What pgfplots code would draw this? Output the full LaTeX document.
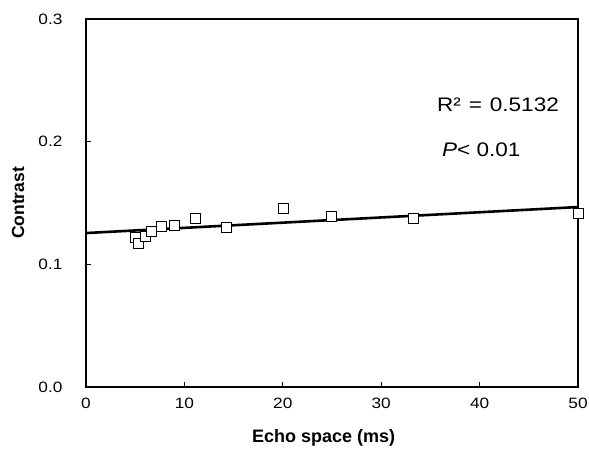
\documentclass[border=0pt]{standalone}
\usepackage{fontspec}
\setmainfont{Liberation Sans}
\usepackage{graphicx}
\usepackage{pgfplots}
\pgfplotsset{compat=1.18}

% the reference text is a little wider than Arial
\newcommand{\wide}[1]{\scalebox{1.15}[1]{#1}}

\begin{document}
\begin{tikzpicture}
\path[use as bounding box] (-86bp,-63bp) rectangle (503bp,387bp);
\begin{axis}[
  scale only axis,
  width=492bp, height=368bp,
  xmin=0, xmax=50, ymin=0, ymax=0.3,
  xtick={0,10,20,30,40,50},
  ytick={0,0.1,0.2,0.3},
  y tick label style={/pgf/number format/fixed, /pgf/number format/fixed zerofill, /pgf/number format/precision=1},
  /pgf/number format/assume math mode=true,
  xticklabel={\wide{\pgfmathprintnumber{\tick}}},
  yticklabel={\wide{\pgfmathprintnumber{\tick}}},
  tick align=inside,
  major tick length=5bp,
  tick style={line width=1.2bp, black},
  xtick pos=bottom, ytick pos=left,
  axis line style={line width=1.5bp},
  tick label style={font=\fontsize{15bp}{17bp}\selectfont},
  xticklabel style={yshift=-8bp},
  yticklabel style={xshift=-20bp},
  xlabel={\textbf{Echo space (ms)}},
  ylabel={\textbf{Contrast}},
  xlabel style={font=\fontsize{18bp}{20bp}\selectfont,
    at={(axis description cs:0.483,-0.1386)}, anchor=center},
  ylabel style={font=\fontsize{17.5bp}{20bp}\selectfont,
    at={(axis description cs:-0.138,0.5)}, anchor=center},
  clip=false,
]
% measured points
\addplot[only marks, mark=square*, mark size=5bp,
  mark options={draw=black, fill=white, line width=1bp}]
coordinates {
  (4.98,0.1220) (5.32,0.1170) (6.00,0.1225) (6.68,0.1266)
  (7.69,0.1310) (9.04,0.1315) (11.08,0.1375) (14.30,0.1300)
  (20.05,0.1457) (24.97,0.1394) (33.26,0.1375) (50.03,0.1416)
};
% linear trend
\addplot[black, line width=2.6bp] coordinates {(0,0.1255) (50,0.1467)};
\node[anchor=west, inner sep=0pt, font=\fontsize{19.6bp}{22bp}\selectfont]
  at (axis cs:35.67,0.2299) {\wide{R²\hspace{0.35em}=\hspace{0.35em}0.5132}};
\node[anchor=west, inner sep=0pt, font=\fontsize{19.6bp}{22bp}\selectfont]
  at (axis cs:36.18,0.1932) {\wide{\textit{P}< 0.01}};
\end{axis}
\end{tikzpicture}
\end{document}
